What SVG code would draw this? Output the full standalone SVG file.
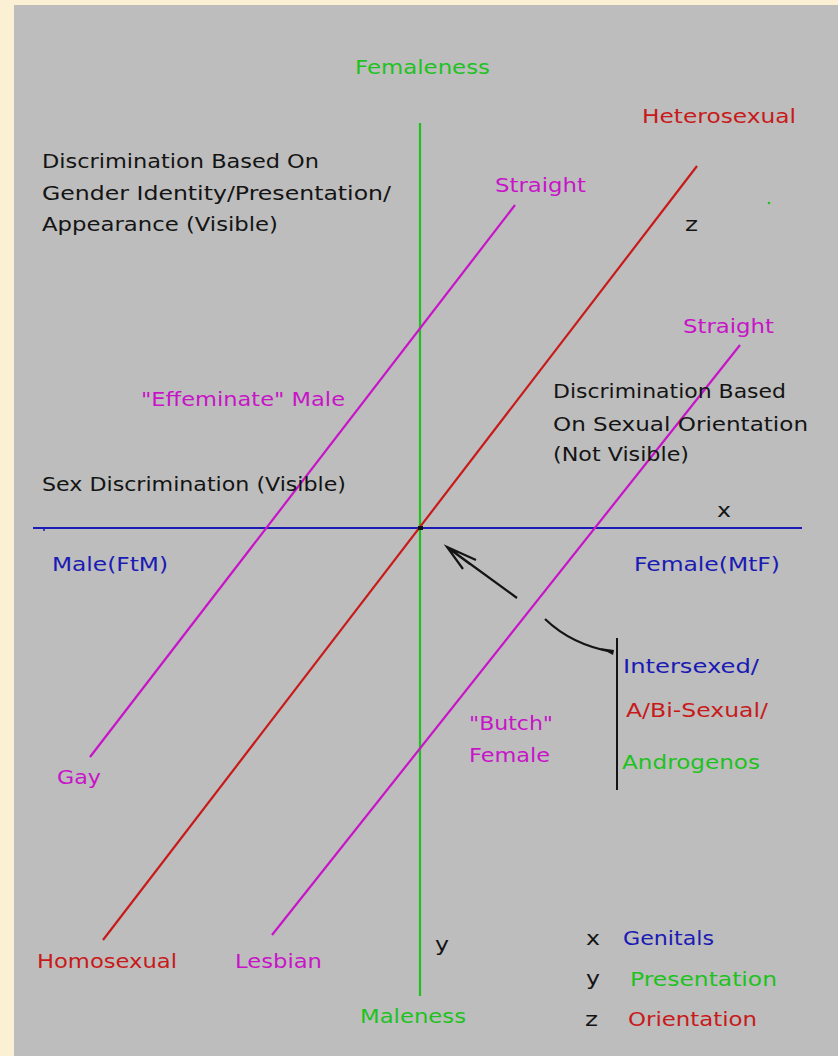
<svg xmlns="http://www.w3.org/2000/svg" width="838" height="1056" viewBox="0 0 838 1056">
<style>
text{font-family:"DejaVu Sans","Liberation Sans",sans-serif;font-size:20px}
.k{fill:#141414}.g{fill:#1ec21e}.r{fill:#c81a1a}.m{fill:#c814c8}.b{fill:#1a1ab4}
.ln{fill:none;stroke-width:2.2}
</style>
<rect x="0" y="0" width="838" height="1056" fill="#fcf0d4"/>
<rect x="14" y="5" width="824" height="1051" fill="#bdbdbd"/>
<g id="connectors">
<line class="ln" x1="33" y1="528" x2="802" y2="528" stroke="#1a1ab4" stroke-width="3"/>
<line x1="44" y1="528" x2="44" y2="531" stroke="#1a1ab4" stroke-width="1.5"/>
<line class="ln" x1="420" y1="123" x2="420" y2="996" stroke="#1ec21e" stroke-width="3"/>
<line class="ln" x1="103" y1="940" x2="697" y2="166" stroke="#c81a1a"/>
<line class="ln" x1="90" y1="757" x2="515" y2="205" stroke="#c814c8"/>
<line class="ln" x1="272" y1="935" x2="740" y2="345" stroke="#c814c8"/>
<rect x="418" y="526" width="5" height="4" fill="#141414"/>
<path class="ln" d="M517,598 L447,547 M476,560 L447,547 L463,569 M470,564 L447,547" stroke="#141414" stroke-width="1.6"/>
<path class="ln" d="M545,619 Q572,645 613,652" stroke="#141414" stroke-width="1.8"/>
<path d="M600,648 L614,650 L613,655 Z" fill="#141414"/>
<line x1="617" y1="638" x2="617" y2="790" stroke="#141414" stroke-width="2"/>
<circle cx="769" cy="203" r="1.3" fill="#1ec21e"/>
</g>
<g id="axis-labels">
<text id="femaleness" class="g" x="355" y="74" textLength="135" lengthAdjust="spacingAndGlyphs">Femaleness</text>
<text id="maleness" class="g" x="360" y="1023" textLength="106" lengthAdjust="spacingAndGlyphs">Maleness</text>
<text id="male-ftm" class="b" x="52" y="571" textLength="116" lengthAdjust="spacingAndGlyphs">Male(FtM)</text>
<text id="female-mtf" class="b" x="634" y="571" textLength="146" lengthAdjust="spacingAndGlyphs">Female(MtF)</text>
<text id="heterosexual" class="r" x="642" y="123" textLength="154" lengthAdjust="spacingAndGlyphs">Heterosexual</text>
<text id="homosexual" class="r" x="37" y="968" textLength="140" lengthAdjust="spacingAndGlyphs">Homosexual</text>
<text id="straight1" class="m" x="495" y="192" textLength="91" lengthAdjust="spacingAndGlyphs">Straight</text>
<text id="straight2" class="m" x="683" y="333" textLength="91" lengthAdjust="spacingAndGlyphs">Straight</text>
<text id="gay" class="m" x="57" y="784" textLength="44" lengthAdjust="spacingAndGlyphs">Gay</text>
<text id="lesbian" class="m" x="235" y="968" textLength="87" lengthAdjust="spacingAndGlyphs">Lesbian</text>
<text id="effeminate" class="m" x="141" y="406" textLength="204" lengthAdjust="spacingAndGlyphs">"Effeminate" Male</text>
<g id="butch" class="m">
<text class="m" x="469" y="730" textLength="84" lengthAdjust="spacingAndGlyphs">"Butch"</text>
<text class="m" x="469" y="762" textLength="81" lengthAdjust="spacingAndGlyphs">Female</text>
</g>
<text id="axis-x" class="k" x="717" y="517" textLength="14" lengthAdjust="spacingAndGlyphs">x</text>
<text id="axis-y" class="k" x="435" y="951" textLength="14" lengthAdjust="spacingAndGlyphs">y</text>
<text id="axis-z" class="k" x="685" y="231" textLength="13" lengthAdjust="spacingAndGlyphs">z</text>
</g>
<g id="discrimination-gender">
<text class="k" x="42" y="168" textLength="277" lengthAdjust="spacingAndGlyphs">Discrimination Based On</text>
<text class="k" x="42" y="200" textLength="349" lengthAdjust="spacingAndGlyphs">Gender Identity/Presentation/</text>
<text class="k" x="42" y="231" textLength="236" lengthAdjust="spacingAndGlyphs">Appearance (Visible)</text>
</g>
<g id="discrimination-orientation">
<text class="k" x="553" y="398" textLength="233" lengthAdjust="spacingAndGlyphs">Discrimination Based</text>
<text class="k" x="553" y="431" textLength="255" lengthAdjust="spacingAndGlyphs">On Sexual Orientation</text>
<text class="k" x="553" y="461" textLength="136" lengthAdjust="spacingAndGlyphs">(Not Visible)</text>
</g>
<text id="sex-discrimination" class="k" x="42" y="491" textLength="304" lengthAdjust="spacingAndGlyphs">Sex Discrimination (Visible)</text>
<g id="intersexed-box">
<text class="b" x="623" y="673" textLength="136" lengthAdjust="spacingAndGlyphs">Intersexed/</text>
<text class="r" x="626" y="717" textLength="142" lengthAdjust="spacingAndGlyphs">A/Bi-Sexual/</text>
<text class="g" x="622" y="769" textLength="138" lengthAdjust="spacingAndGlyphs">Androgenos</text>
</g>
<g id="legend">
<text class="k" x="586" y="945" textLength="14" lengthAdjust="spacingAndGlyphs">x</text>
<text class="b" x="623" y="945" textLength="91" lengthAdjust="spacingAndGlyphs">Genitals</text>
<text class="k" x="586" y="985" textLength="14" lengthAdjust="spacingAndGlyphs">y</text>
<text class="g" x="630" y="986" textLength="147" lengthAdjust="spacingAndGlyphs">Presentation</text>
<text class="k" x="585" y="1026" textLength="13" lengthAdjust="spacingAndGlyphs">z</text>
<text class="r" x="628" y="1026" textLength="129" lengthAdjust="spacingAndGlyphs">Orientation</text>
</g>
</svg>
